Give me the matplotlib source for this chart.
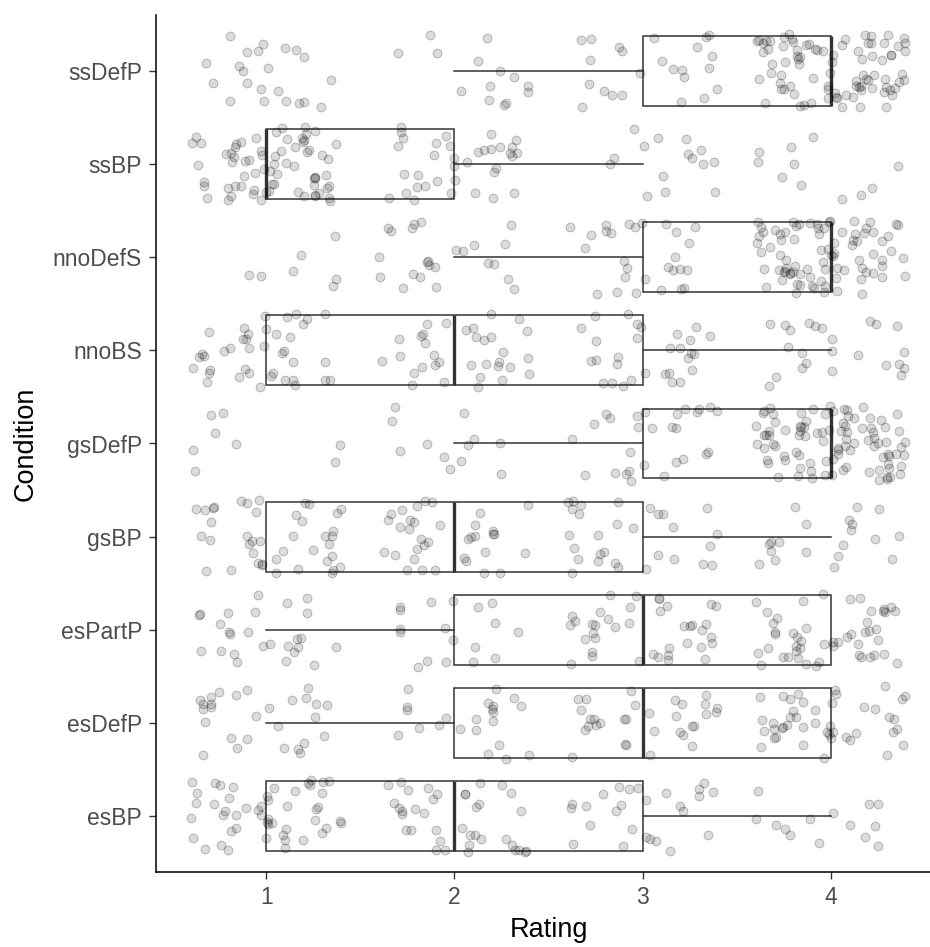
import numpy as np
import matplotlib
matplotlib.use("Agg")
import matplotlib.pyplot as plt

# Conditions (bottom to top) and number of responses at each rating 1..4
conditions = ["esBP", "esDefP", "esPartP", "gsBP", "gsDefP", "nnoBS", "nnoDefS", "ssBP", "ssDefP"]
ratings = [1, 2, 3, 4]
count_esBP    = [50, 38, 26, 14]
count_esDefP  = [28, 22, 32, 45]
count_esPartP = [26, 18, 40, 50]
count_gsBP    = [42, 36, 30, 20]
count_gsDefP  = [8, 12, 28, 95]
count_nnoBS   = [40, 34, 30, 24]
count_nnoDefS = [7, 24, 28, 85]
count_ssBP    = [70, 36, 15, 11]
count_ssDefP  = [22, 14, 24, 88]
counts = [count_esBP, count_esDefP, count_esPartP, count_gsBP, count_gsDefP,
          count_nnoBS, count_nnoDefS, count_ssBP, count_ssDefP]
xticks = [1, 2, 3, 4]

plt.rcParams['font.family'] = ['Liberation Sans', 'DejaVu Sans']

W, H = 930, 947
fig = plt.figure(figsize=(W / 100, H / 100), dpi=100)
left, right, top, bottom = 156, 941, 15, 872
ax = fig.add_axes([left / W, 1 - bottom / H, (right - left) / W, (bottom - top) / H])

data = [np.repeat(ratings, c).astype(float) for c in counts]
pos = np.arange(1, len(conditions) + 1)

box_col = "#333333"
ax.boxplot(data, positions=pos, vert=False, widths=0.75, whis=1.5,
           showcaps=False, showfliers=False, patch_artist=True,
           boxprops=dict(facecolor="white", edgecolor=box_col, linewidth=1.1),
           whiskerprops=dict(color=box_col, linewidth=1.1),
           medianprops=dict(color=box_col, linewidth=2.4),
           zorder=1)

# jittered points (position adjustment, like geom_jitter width/height 0.4)
rng = np.random.default_rng(7)
for p, d in zip(pos, data):
    jx = d + rng.uniform(-0.4, 0.4, size=d.size)
    jy = p + rng.uniform(-0.4, 0.4, size=d.size)
    ax.scatter(jx, jy, s=40, facecolors=(0, 0, 0, 0.14), edgecolors=(0, 0, 0, 0.24),
               linewidths=0.7, zorder=3)

ax.set_xlim(0.415, 4.585)
ax.set_ylim(0.4, len(conditions) + 0.6)
ax.set_yticks(pos)
ax.set_yticklabels(conditions)
ax.set_xticks(xticks)
ax.set_xticklabels([str(t) for t in xticks])

for s in ["top", "right"]:
    ax.spines[s].set_visible(False)
for s in ["left", "bottom"]:
    ax.spines[s].set_color("black")
    ax.spines[s].set_linewidth(1.1)
ax.tick_params(axis="both", colors="#333333", labelcolor="#4d4d4d",
               length=5, width=1.0, labelsize=16.5, pad=5)
ax.set_xlabel("Rating", fontsize=19.5, color="black", labelpad=6)
ax.set_ylabel("Condition", fontsize=19.5, color="black", labelpad=10)

fig.savefig("out.png", dpi=100)
